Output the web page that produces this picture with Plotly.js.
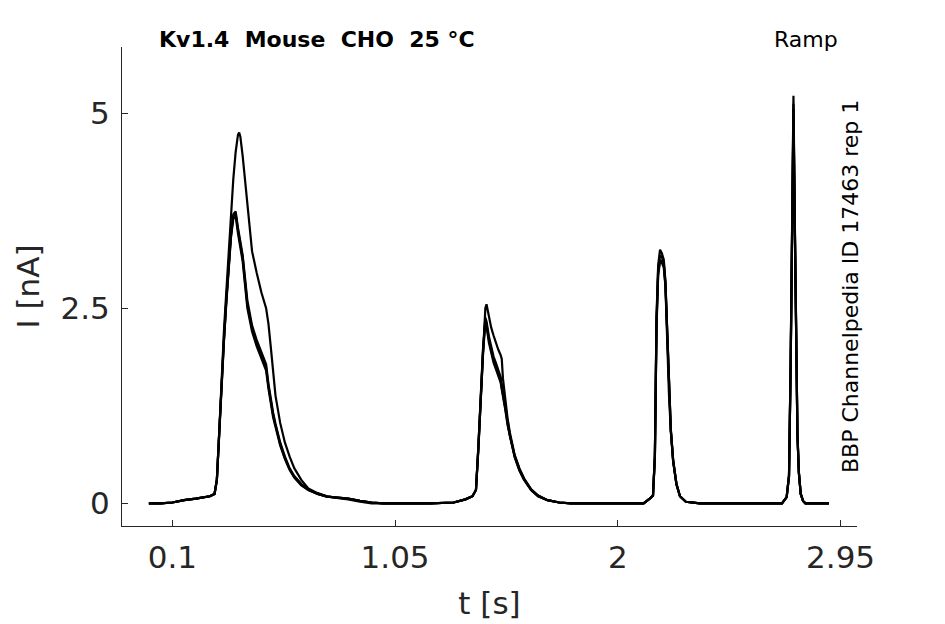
<!DOCTYPE html>
<html>
<head>
<meta charset="utf-8">
<script src="https://cdn.plot.ly/plotly-3.0.1.min.js"></script>
<style>
  html, body { margin: 0; padding: 0; background: #fff; }
  #chart { width: 945px; height: 624px; }
</style>
</head>
<body>
<div id="chart"></div>
<script>
// time points shared by all sweeps [s]
const t = [
  0.00, 0.05, 0.10, 0.15, 0.20, 0.26, 0.28, 0.29, 0.30, 0.31, 0.32, 0.33, 0.34, 0.35, 0.36, 0.37,
  0.38, 0.385, 0.39, 0.40, 0.42, 0.44, 0.46, 0.48, 0.50, 0.51, 0.52, 0.53, 0.54, 0.56, 0.58, 0.60,
  0.62, 0.65, 0.68, 0.72, 0.76, 0.80, 0.85, 0.90, 0.95,
  1.00, 1.10, 1.20, 1.30, 1.35, 1.38, 1.395, 1.405, 1.415, 1.425, 1.435, 1.44, 1.45, 1.46, 1.47,
  1.48, 1.49, 1.50, 1.505, 1.51, 1.52, 1.53, 1.54, 1.56, 1.58, 1.60, 1.63, 1.66, 1.70, 1.75, 1.80,
  1.90, 2.00, 2.05, 2.11, 2.14, 2.15, 2.158, 2.165, 2.172, 2.18, 2.188, 2.196, 2.203, 2.21, 2.218,
  2.226, 2.236, 2.25, 2.265, 2.29, 2.35, 2.45, 2.55, 2.65, 2.70, 2.72, 2.73, 2.737, 2.743, 2.749,
  2.755, 2.76, 2.766, 2.772, 2.78, 2.79, 2.80, 2.85, 2.90
];

// current of each sweep [nA]
const sweep1 = [
  0.00, 0.00, 0.01, 0.04, 0.06, 0.09, 0.12, 0.30, 0.90, 1.60, 2.20, 2.70, 3.20, 3.70, 4.15, 4.50,
  4.72, 4.75, 4.70, 4.45, 3.80, 3.23, 2.95, 2.70, 2.50, 2.30, 2.00, 1.65, 1.38, 1.03, 0.78, 0.60,
  0.45, 0.30, 0.19, 0.13, 0.09, 0.07, 0.05, 0.02, 0.00,
  0.00, 0.00, 0.00, 0.01, 0.05, 0.09, 0.17, 0.70, 1.35, 2.05, 2.50, 2.55, 2.40, 2.25, 2.15,
  2.05, 1.97, 1.90, 1.85, 1.60, 1.32, 1.08, 0.90, 0.62, 0.45, 0.32, 0.18, 0.10, 0.04, 0.01, 0.00,
  0.00, 0.00, 0.00, 0.00, 0.07, 0.10, 0.60, 2.40, 3.05, 3.25, 3.20, 3.12, 2.85, 2.20, 1.45,
  0.95, 0.55, 0.25, 0.09, 0.02, 0.00, 0.00, 0.00, 0.00, 0.00, 0.08, 0.35, 1.80, 3.60, 5.22,
  3.60, 2.20, 0.90, 0.40, 0.12, 0.03, 0.00, 0.00, 0.00
];
const sweep2 = [
  0.00, 0.00, 0.01, 0.04, 0.06, 0.09, 0.12, 0.30, 0.90, 1.55, 2.10, 2.60, 3.05, 3.45, 3.68, 3.72,
  3.50, 3.40, 3.30, 3.15, 2.55, 2.24, 2.05, 1.90, 1.74, 1.50, 1.30, 1.13, 1.00, 0.76, 0.58, 0.44,
  0.34, 0.24, 0.17, 0.12, 0.085, 0.07, 0.06, 0.03, 0.01,
  0.00, 0.00, 0.00, 0.01, 0.05, 0.09, 0.17, 0.70, 1.30, 1.95, 2.35, 2.30, 2.10, 1.95, 1.83,
  1.75, 1.66, 1.58, 1.48, 1.40, 1.22, 1.02, 0.86, 0.60, 0.43, 0.31, 0.17, 0.09, 0.04, 0.01, 0.00,
  0.00, 0.00, 0.00, 0.00, 0.07, 0.10, 0.60, 2.30, 2.95, 3.12, 3.10, 3.05, 2.80, 2.15, 1.42,
  0.93, 0.54, 0.24, 0.09, 0.02, 0.00, 0.00, 0.00, 0.00, 0.00, 0.08, 0.35, 1.75, 3.50, 5.05,
  3.50, 2.15, 0.88, 0.40, 0.12, 0.03, 0.00, 0.00, 0.00
];
const sweep3 = [
  0.00, 0.00, 0.01, 0.04, 0.06, 0.09, 0.12, 0.30, 0.88, 1.52, 2.06, 2.55, 3.00, 3.40, 3.64, 3.68,
  3.46, 3.36, 3.26, 3.10, 2.50, 2.20, 2.01, 1.86, 1.70, 1.47, 1.27, 1.10, 0.98, 0.74, 0.57, 0.43,
  0.33, 0.23, 0.17, 0.12, 0.085, 0.07, 0.06, 0.03, 0.01,
  0.00, 0.00, 0.00, 0.01, 0.05, 0.09, 0.17, 0.68, 1.28, 1.92, 2.32, 2.27, 2.06, 1.92, 1.80,
  1.72, 1.63, 1.55, 1.46, 1.38, 1.20, 1.00, 0.85, 0.59, 0.42, 0.30, 0.17, 0.09, 0.04, 0.01, 0.00,
  0.00, 0.00, 0.00, 0.00, 0.07, 0.10, 0.58, 2.25, 2.92, 3.10, 3.08, 3.02, 2.78, 2.12, 1.40,
  0.92, 0.53, 0.24, 0.09, 0.02, 0.00, 0.00, 0.00, 0.00, 0.00, 0.08, 0.34, 1.72, 3.45, 4.95,
  3.45, 2.12, 0.86, 0.39, 0.12, 0.03, 0.00, 0.00, 0.00
];
const sweep4 = [
  0.00, 0.00, 0.01, 0.04, 0.06, 0.09, 0.12, 0.30, 0.92, 1.56, 2.08, 2.58, 3.02, 3.42, 3.70, 3.74,
  3.53, 3.43, 3.33, 3.18, 2.60, 2.28, 2.09, 1.94, 1.78, 1.53, 1.33, 1.16, 1.02, 0.78, 0.60, 0.45,
  0.35, 0.25, 0.18, 0.12, 0.085, 0.07, 0.06, 0.03, 0.01,
  0.00, 0.00, 0.00, 0.01, 0.05, 0.09, 0.17, 0.72, 1.32, 1.98, 2.38, 2.33, 2.14, 1.99, 1.88,
  1.80, 1.70, 1.62, 1.52, 1.42, 1.24, 1.04, 0.87, 0.61, 0.44, 0.31, 0.18, 0.10, 0.04, 0.01, 0.00,
  0.00, 0.00, 0.00, 0.00, 0.07, 0.10, 0.62, 2.35, 3.00, 3.18, 3.15, 3.08, 2.82, 2.18, 1.44,
  0.94, 0.55, 0.25, 0.09, 0.02, 0.00, 0.00, 0.00, 0.00, 0.00, 0.08, 0.36, 1.78, 3.55, 5.12,
  3.55, 2.18, 0.89, 0.40, 0.12, 0.03, 0.00, 0.00, 0.00
];

const sweeps = [sweep1, sweep2, sweep3, sweep4];

const xTicks = [0.1, 1.05, 2, 2.95];
const xTickText = ['0.1', '1.05', '2', '2.95'];
const yTicks = [0, 2.5, 5];
const yTickText = ['0', '2.5', '5'];

const font = 'DejaVu Sans, sans-serif';
const axisColor = '#262626';

const traces = sweeps.map((s) => ({
  x: t,
  y: s,
  type: 'scatter',
  mode: 'lines',
  line: { color: '#000000', width: 2.2 },
  hoverinfo: 'skip',
}));

const layout = {
  width: 945,
  height: 624,
  margin: { l: 122, r: 88, t: 47, b: 98 },
  paper_bgcolor: '#ffffff',
  plot_bgcolor: '#ffffff',
  showlegend: false,
  font: { family: font, color: axisColor },
  xaxis: {
    range: [-0.1146, 3.02],
    tickvals: xTicks,
    ticktext: xTickText,
    ticks: 'inside',
    ticklen: 6,
    tickwidth: 1,
    tickcolor: axisColor,
    ticklabelstandoff: 4,
    showline: true,
    linecolor: axisColor,
    linewidth: 1,
    showgrid: false,
    zeroline: false,
    tickfont: { family: font, size: 31, color: axisColor },
    title: { text: 't [s]', font: { family: font, size: 31, color: axisColor }, standoff: 18 },
  },
  yaxis: {
    range: [-0.291, 5.846],
    tickvals: yTicks,
    ticktext: yTickText,
    ticks: 'inside',
    ticklen: 6,
    tickwidth: 1,
    tickcolor: axisColor,
    ticklabelstandoff: 5,
    showline: true,
    linecolor: axisColor,
    linewidth: 1,
    showgrid: false,
    zeroline: false,
    tickfont: { family: font, size: 31, color: axisColor },
    title: { text: 'I [nA]', font: { family: font, size: 31, color: axisColor }, standoff: 11 },
  },
  annotations: [
    {
      text: '<b>Kv1.4\u00a0 Mouse\u00a0 CHO\u00a0 25 °C</b>',
      xref: 'paper', yref: 'paper',
      x: (157 - 122) / 735, y: (526 - 40) / 479,
      xanchor: 'left', yanchor: 'middle',
      showarrow: false,
      font: { family: font, size: 22, color: '#000000' },
    },
    {
      text: 'Ramp',
      xref: 'paper', yref: 'paper',
      x: (806 - 122) / 735, y: (526 - 40) / 479,
      xanchor: 'center', yanchor: 'middle',
      showarrow: false,
      font: { family: font, size: 22, color: '#000000' },
    },
    {
      text: 'BBP Channelpedia ID 17463 rep 1',
      xref: 'paper', yref: 'paper',
      x: (850 - 122) / 735, y: (526 - 287) / 479,
      xanchor: 'center', yanchor: 'middle',
      textangle: -90,
      showarrow: false,
      font: { family: font, size: 22, color: '#000000' },
    },
  ],
};

Plotly.newPlot('chart', traces, layout, { displayModeBar: false, staticPlot: true });
</script>
</body>
</html>
